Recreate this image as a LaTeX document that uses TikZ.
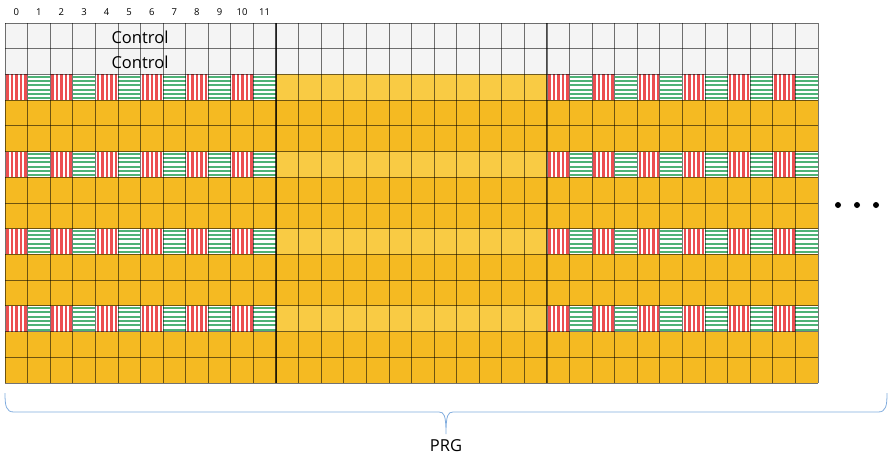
\documentclass[tikz,border=0pt]{standalone}
\usepackage{fontspec}
\setmainfont{Open Sans}
\usetikzlibrary{positioning}

\definecolor{ctrlgray}{RGB}{244,244,244}
\definecolor{rbyellow}{RGB}{245,186,34}
\definecolor{prgyellow}{RGB}{249,203,68}
\definecolor{dmrsred}{RGB}{236,78,80}
\definecolor{dmrsgreen}{RGB}{78,178,118}
\definecolor{bracebl}{RGB}{128,172,222}

\begin{document}
\begin{tikzpicture}[x=1pt, y=-1pt,
  gridline/.style={draw=black, draw opacity=0.55, line width=0.7pt},
  groupline/.style={draw=black, draw opacity=0.7, line width=1.1pt},
  numlabel/.style={font=\fontsize{9.5}{10}\selectfont, inner sep=0pt},
  biglabel/.style={font=\fontsize{16.5}{18}\selectfont, inner sep=0pt}]
  \useasboundingbox (0,0) rectangle (888,459);
  \def\cw{22.58}
  \def\rh{25.71}
  % control region and resource blocks
  \fill[ctrlgray] (5,23) rectangle ++(36*\cw,2*\rh);
  \fill[rbyellow] (5,23+2*\rh) rectangle (818,383);
  % DMRS rows
  \foreach \r in {2,5,8,11} {
    \fill[prgyellow] (5+12*\cw,23+\r*\rh) rectangle ++(12*\cw,\rh);
    \foreach \g in {0,24} {
      \foreach \k in {0,...,11} {
        \pgfmathsetmacro{\xa}{5+(\g+\k)*\cw}
        \pgfmathsetmacro{\ya}{23+\r*\rh}
        \fill[white] (\xa,\ya) rectangle ++(\cw,\rh);
        \ifodd\k
          \foreach \s in {0,...,5}
            \fill[dmrsgreen] (\xa,\ya+1.2+\s*4.3) rectangle ++(\cw,2.0);
        \else
          \foreach \s in {0,...,4}
            \fill[dmrsred] (\xa+1.3+\s*4.5,\ya) rectangle ++(2.5,\rh);
        \fi
      }
    }
  }
  % grid
  \foreach \r in {0,...,14}
    \draw[gridline] (5,23+\r*\rh) -- ++(36*\cw,0);
  \foreach \c in {0,...,36}
    \draw[gridline] (5+\c*\cw,23) -- ++(0,14*\rh);
  \foreach \c in {12,24}
    \draw[groupline] (5+\c*\cw,23) -- ++(0,14*\rh);
  % symbol numbers
  \foreach \c in {0,...,11}
    \node[numlabel] (sym\c) at (5+\c*\cw+0.5*\cw,12) {\c};
  \node[biglabel] (ctrlA) at (140,37) {Control};
  \node[biglabel] (ctrlB) at (140,62.5) {Control};
  % more PRGs
  \foreach \x in {838,857,876}
    \fill (\x,205) circle (3);
  % brace
  \draw[bracebl, line width=0.8pt]
    (5,393) .. controls (5,406) and (6,412) .. (14,412) -- (439,412)
    .. controls (444,412) and (446,415) .. (446,434)
    .. controls (446,415) and (448,412) .. (453,412) -- (878,412)
    .. controls (886,412) and (887,406) .. (887,393);
  \node[biglabel] (prg) at (446,446) {PRG};
\end{tikzpicture}
\end{document}
